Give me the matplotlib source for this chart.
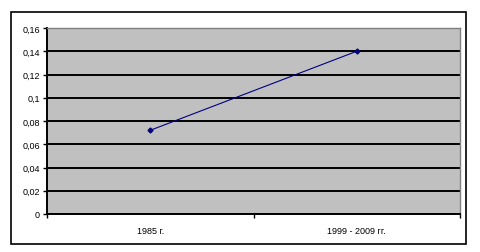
import matplotlib.pyplot as plt
from matplotlib.patches import Rectangle

categories = ["1985 г.", "1999 - 2009 гг."]
values = [0.072, 0.14]
yticks = [0, 0.02, 0.04, 0.06, 0.08, 0.1, 0.12, 0.14, 0.16]
ytick_labels = ["0", "0,02", "0,04", "0,06", "0,08", "0,1", "0,12", "0,14", "0,16"]

plt.rcParams["font.family"] = ["Liberation Sans", "DejaVu Sans"]

fig = plt.figure(figsize=(4.8, 2.53), dpi=100)
fig.patches.append(Rectangle((11 / 480, 8 / 253), 455 / 480, 232 / 253,
                             transform=fig.transFigure, fill=False,
                             edgecolor="black", linewidth=1.2))

ax = fig.add_axes([47 / 480, 38 / 253, 413 / 480, 186 / 253])
ax.set_facecolor("#c0c0c0")

x = [0.5, 1.5]
ax.plot(x, values, color="#000080", linewidth=0.8, marker="D", markersize=2.5)

ax.set_xlim(0, 2)
ax.set_ylim(0, 0.16)
ax.set_yticks(yticks)
ax.set_yticklabels(ytick_labels)
ax.yaxis.grid(True, color="black", linewidth=1.4)
ax.set_axisbelow(True)

ax.set_xticks([0, 1, 2])
ax.set_xticklabels([])
ax.set_xticks(x, minor=True)
ax.set_xticklabels(categories, minor=True)
ax.tick_params(axis="x", which="minor", length=0, pad=9, labelsize=6.5)
ax.tick_params(axis="x", which="major", length=3, width=1, direction="out")
ax.tick_params(axis="y", length=3, width=1, direction="out", labelsize=6.5, pad=2)

for side in ["top", "right"]:
    ax.spines[side].set_color("#808080")
    ax.spines[side].set_linewidth(1)
for side in ["left", "bottom"]:
    ax.spines[side].set_color("black")
    ax.spines[side].set_linewidth(1.4)

plt.savefig("out.png", dpi=100)
